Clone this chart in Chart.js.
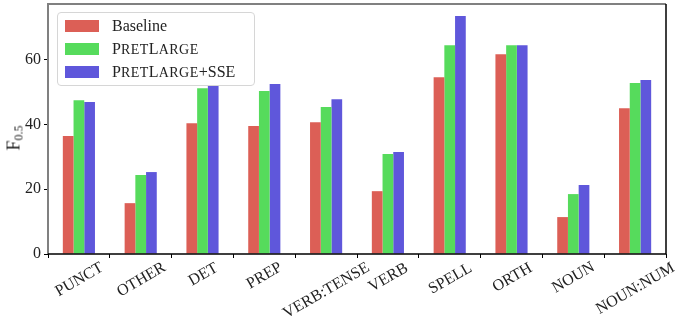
<!DOCTYPE html>
<html lang="en">
<head>
  <meta charset="UTF-8" />
  <title>F0.5 by error type</title>
  <script src="https://cdn.jsdelivr.net/npm/chart.js"></script>
  <style>
    html, body { margin: 0; padding: 0; background: #fff; }
    #wrap { position: relative; width: 675px; height: 322px; font-family: "Liberation Serif", serif; }
    #legend {
      position: absolute; left: 57px; top: 12px; width: 196px; height: 72px;
      border: 1px solid #d6d6d6; border-radius: 4px; background: rgba(255,255,255,0.85);
      font-size: 16px; color: #222;
    }
    .row { position: absolute; left: 7px; height: 20px; display: flex; align-items: center; white-space: nowrap; }
    .sw { width: 34px; height: 12px; margin-right: 13px; }
    .sm { font-size: 14px; letter-spacing: 0.5px; }
    #ytitle {
      position: absolute; left: 15px; top: 138px; transform: translate(-50%, -50%) rotate(-90deg);
      font-size: 18px; color: #222; white-space: nowrap;
    }
    #ytitle sub { font-size: 12px; vertical-align: -3px; }
    .xl {
      position: absolute; font-size: 16px; line-height: 16px; color: #222; white-space: nowrap;
      transform: translate(-50%, -50%) rotate(-30deg);
    }
  </style>
</head>
<body>
  <div id="wrap">
    <canvas id="chart" width="675" height="322"></canvas>
    <div id="ytitle">F<sub>0.5</sub></div>
    <div id="legend"></div>
  </div>

  <script>
    // data
    const categories = ['PUNCT', 'OTHER', 'DET', 'PREP', 'VERB:TENSE', 'VERB', 'SPELL', 'ORTH', 'NOUN', 'NOUN:NUM'];
    const baseline = [36.4, 15.7, 40.4, 39.5, 40.7, 19.4, 54.6, 61.7, 11.4, 45.0];
    const pretLarge = [47.5, 24.4, 51.2, 50.3, 45.4, 30.9, 64.5, 64.5, 18.5, 52.8];
    const pretLargeSSE = [46.9, 25.3, 51.9, 52.5, 47.8, 31.5, 73.5, 64.5, 21.3, 53.7];
    const yTicks = [0, 20, 40, 60];

    const names = ['Baseline', 'PretLarge', 'PretLarge+SSE'];
    const colors = ['#dc5f56', '#56db5c', '#5f57db'];

    // small caps by hand: lower case letters become smaller capitals
    function smallCaps(s) {
      return s.replace(/[a-z]+/g, m => '<span class="sm">' + m.toUpperCase() + '</span>');
    }

    const wrap = document.getElementById('wrap');
    const legend = document.getElementById('legend');
    names.forEach((n, i) => {
      const row = document.createElement('div');
      row.className = 'row';
      row.style.top = (3 + i * 23) + 'px';
      row.innerHTML = '<span class="sw" style="background:' + colors[i] + '"></span><span>' + (i ? smallCaps(n) : n) + '</span>';
      legend.appendChild(row);
    });

    // frame: gray left/top, black right/bottom
    const framePlugin = {
      id: 'frame',
      afterDatasetsDraw(chart) {
        const { ctx, chartArea: a } = chart;
        ctx.save();
        ctx.lineWidth = 2;
        ctx.strokeStyle = '#808080';
        ctx.beginPath();
        ctx.moveTo(a.left, a.bottom);
        ctx.lineTo(a.left, a.top);
        ctx.lineTo(a.right, a.top);
        ctx.stroke();
        ctx.strokeStyle = '#000';
        ctx.lineWidth = 1.5;
        ctx.beginPath();
        ctx.moveTo(a.right, a.top);
        ctx.lineTo(a.right, a.bottom);
        ctx.lineTo(a.left, a.bottom);
        ctx.stroke();
        ctx.restore();
      }
    };

    const chart = new Chart(document.getElementById('chart'), {
      type: 'bar',
      data: {
        labels: categories,
        datasets: [
          { label: names[0], data: baseline, backgroundColor: colors[0] },
          { label: names[1], data: pretLarge, backgroundColor: colors[1] },
          { label: names[2], data: pretLargeSSE, backgroundColor: colors[2] }
        ]
      },
      options: {
        responsive: false,
        animation: false,
        layout: { padding: { left: 0, top: 4, right: 9, bottom: 0 } },
        datasets: { bar: { barPercentage: 1, categoryPercentage: 0.52 } },
        plugins: { legend: { display: false }, tooltip: { enabled: false } },
        scales: {
          x: {
            offset: true,
            grid: { drawOnChartArea: false, drawTicks: true, tickLength: 4, color: '#000' },
            border: { display: false },
            ticks: { display: false },
            afterFit(s) { s.height = 68; s.paddingLeft = 0; s.paddingRight = 0; }
          },
          y: {
            min: 0,
            max: 77.2,
            grid: { drawOnChartArea: false, drawTicks: true, tickLength: 4, color: '#000' },
            border: { display: false },
            ticks: { padding: 3, color: '#222', font: { family: 'Liberation Serif', size: 16 } },
            afterBuildTicks(s) { s.ticks = yTicks.map(v => ({ value: v })); },
            afterFit(s) { s.width = 48; s.paddingTop = 0; s.paddingBottom = 0; }
          }
        }
      },
      plugins: [framePlugin]
    });

    // x labels as rotated html text, centred under each tick like matplotlib
    const xs = chart.scales.x;
    const labelTop = chart.chartArea.bottom + 7;
    const ang = 30 * Math.PI / 180;
    categories.forEach((c, i) => {
      const el = document.createElement('div');
      el.className = 'xl';
      el.textContent = c;
      wrap.appendChild(el);
      const w = el.offsetWidth;
      const h = 11;
      const H = w * Math.sin(ang) + h * Math.cos(ang);
      el.style.left = xs.getPixelForTick(i) + 'px';
      el.style.top = (labelTop + H / 2) + 'px';
    });
  </script>
</body>
</html>
